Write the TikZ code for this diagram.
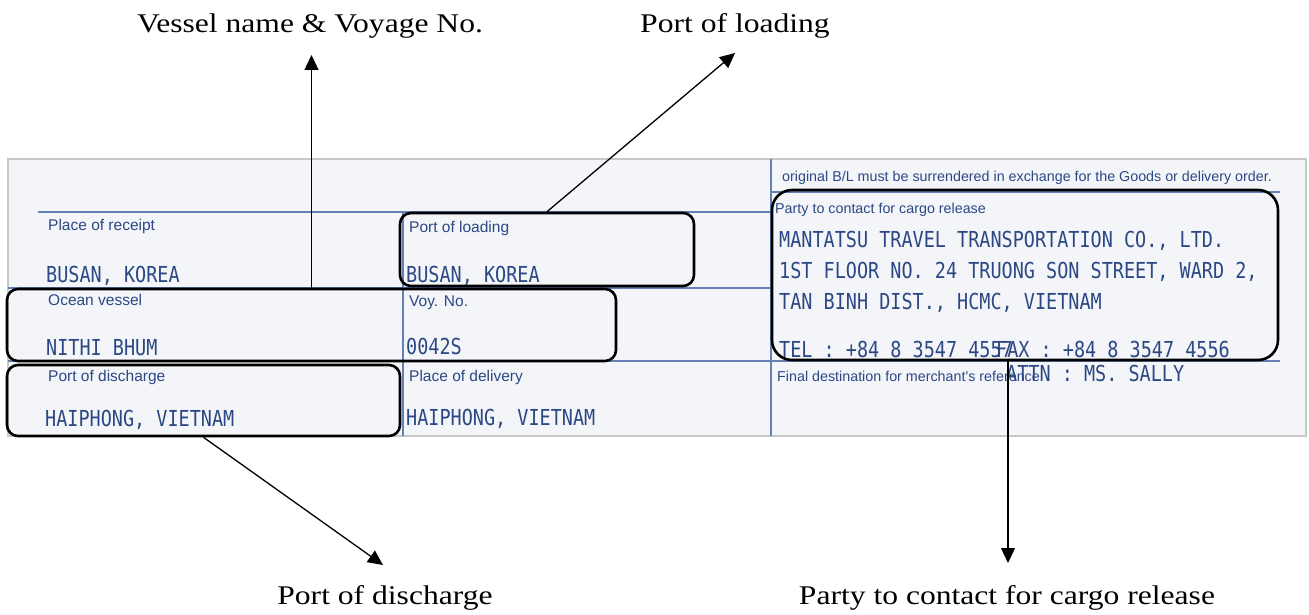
\documentclass[tikz,border=0pt]{standalone}
\usepackage{fontspec}
\setmainfont{Liberation Serif}[FakeStretch=1.17]
\newfontfamily\formsans{Liberation Sans}
\newfontfamily\formmono{DejaVu Sans Mono}[FakeStretch=0.84]
\usetikzlibrary{arrows.meta}

\definecolor{formink}{RGB}{44,72,132}
\definecolor{formrule}{RGB}{100,128,180}
\definecolor{formpaper}{RGB}{243,245,249}
\definecolor{formedge}{RGB}{200,200,200}

\tikzset{
  callout/.style={font=\fontsize{27}{32}\selectfont, inner sep=0pt, anchor=base},
  fieldlbl/.style={font=\formsans\fontsize{15.5}{18}\selectfont, text=formink, inner sep=0pt, anchor=base west},
  smalllbl/.style={font=\formsans\fontsize{14.3}{17}\selectfont, text=formink, inner sep=0pt, anchor=base west},
  fieldval/.style={font=\formmono\fontsize{22}{31}\selectfont, text=formink, inner sep=0pt, anchor=base west},
  formline/.style={draw=formrule, line width=1.2pt},
  hlbox/.style={draw=black, line width=2.6pt, rounded corners=11pt, inner sep=0pt},
  arr/.style={draw=black, line width=1.3pt, -{Triangle[length=15pt,width=14pt]}}
}

\begin{document}
\begin{tikzpicture}[x=1pt,y=-1pt]
\useasboundingbox (0,0) rectangle (1309,615);

% form sheet
\draw[draw=formedge, fill=formpaper, line width=2pt] (8,159) rectangle (1306,436);

% ruled grid of the form
\draw[formline] (771,159) -- (771,436);
\draw[formline] (38,212) -- (771,212);
\draw[formline] (8,288) -- (771,288);
\draw[formline] (8,361) -- (771,361);
\draw[formline] (403,212) -- (403,436);
\draw[formline] (771,192) -- (1280,192);
\draw[formline] (771,361) -- (1280,361);

% field captions
\node[fieldlbl] (cRec) at (48,230) {Place of receipt};
\node[fieldlbl] (cLoad) at (409,232) {Port of loading};
\node[fieldlbl] (cVes) at (48,305) {Ocean vessel};
\node[fieldlbl] (cVoy) at (409,306) {Voy. No.};
\node[fieldlbl] (cDis) at (48,381) {Port of discharge};
\node[fieldlbl] (cDel) at (409,381) {Place of delivery};
\node[smalllbl] (cNote) at (782,182) {original B/L must be surrendered in exchange for the Goods or delivery order.};
\node[smalllbl] (cParty) at (775,213) {Party to contact for cargo release};
\node[smalllbl] (cFinal) at (777,381) {Final destination for merchant's reference};

% typed entries
\node[fieldval] (vRec) at (46,282) {BUSAN, KOREA};
\node[fieldval] (vLoad) at (406,282) {BUSAN, KOREA};
\node[fieldval] (vVes) at (46,355) {NITHI BHUM};
\node[fieldval] (vVoy) at (406,354) {0042S};
\node[fieldval] (vDis) at (45,426) {HAIPHONG, VIETNAM};
\node[fieldval] (vDel) at (406,425) {HAIPHONG, VIETNAM};
\node[fieldval] (p1) at (779,247) {MANTATSU TRAVEL TRANSPORTATION CO., LTD.};
\node[fieldval] (p2) at (779,278) {1ST FLOOR NO. 24 TRUONG SON STREET, WARD 2,};
\node[fieldval] (p3) at (779,309) {TAN BINH DIST., HCMC, VIETNAM};
\node[fieldval] (p4) at (779,357) {TEL : +84 8 3547 4557};
\node[fieldval] (p5) at (996,357) {FAX : +84 8 3547 4556};
\node[fieldval] (p6) at (1006,381) {ATTN : MS. SALLY};

% highlight frames
\node[hlbox, minimum width=294pt, minimum height=73pt] (bLoad) at (547,249.5) {};
\node[hlbox, minimum width=609pt, minimum height=72pt] (bVes) at (311.5,325) {};
\node[hlbox, minimum width=393pt, minimum height=71pt] (bDis) at (203.5,400.5) {};
\node[hlbox, minimum width=506pt, minimum height=170pt, rounded corners=20pt] (bParty) at (1025,275) {};

% callout captions
\node[callout] (lVes) at (310,33) {Vessel name \& Voyage No.};
\node[callout] (lLoad) at (735,33) {Port of loading};
\node[callout] (lDis) at (385,604) {Port of discharge};
\node[callout] (lParty) at (1007,604) {Party to contact for cargo release};

% arrow ends
\coordinate (tVes) at (311.5,55);
\coordinate (tLoad) at (735,53);
\coordinate (tDis) at (383,565);
\coordinate (tParty) at (1008,563);

% connectors
\draw[arr] (bVes.north) -- (tVes);
\draw[arr] (bLoad.north) -- (tLoad);
\draw[arr] (bDis.south) -- (tDis);
\draw[arr] (bParty.south -| tParty) -- (tParty);
\end{tikzpicture}
\end{document}
